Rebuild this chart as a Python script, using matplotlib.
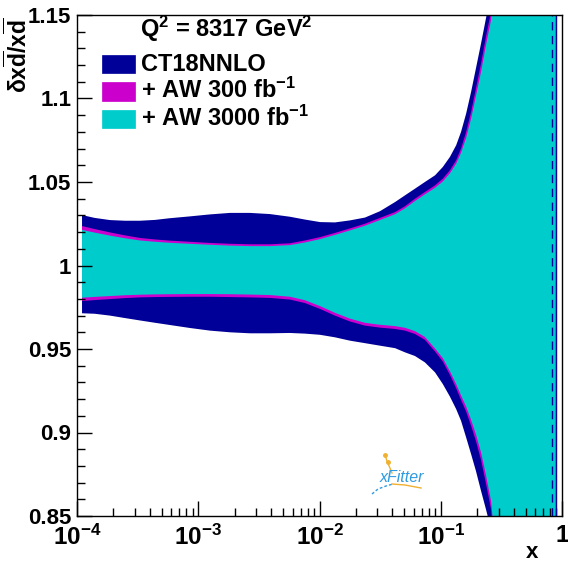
import matplotlib
matplotlib.use("Agg")
import matplotlib.pyplot as plt
from matplotlib.ticker import FixedLocator, NullFormatter, MultipleLocator
from matplotlib.lines import Line2D
from matplotlib.patches import Rectangle

plt.rcParams['font.family'] = ['Liberation Sans', 'DejaVu Sans']
plt.rcParams['font.weight'] = 'bold'
plt.rcParams['mathtext.fontset'] = 'custom'
plt.rcParams['mathtext.rm'] = 'Liberation Sans:bold'
plt.rcParams['mathtext.it'] = 'Liberation Sans:bold'
plt.rcParams['mathtext.bf'] = 'Liberation Sans:bold'
plt.rcParams['mathtext.sf'] = 'Liberation Sans:bold'

# ---- relative uncertainty bands of xdbar at Q^2 = 8317 GeV^2 ----
x_nodes = [1.1e-4, 1.4e-4, 1.87e-4, 2.5e-4, 3.3e-4, 4.4e-4, 5.8e-4, 8.5e-4, 1.25e-3, 1.83e-3,
           2.67e-3, 3.9e-3, 5.7e-3, 7.6e-3, 1.01e-2, 1.34e-2, 1.78e-2, 2.37e-2, 3.15e-2, 4.2e-2,
           5.07e-2, 6.13e-2, 7.4e-2, 8.97e-2, 0.104, 0.119, 0.134, 0.147, 0.162, 0.178,
           0.195, 0.215, 0.236, 0.26, 0.3, 0.89]

ct18_hi = [1.0302, 1.0285, 1.0272, 1.0268, 1.0268, 1.0273, 1.0283, 1.0294, 1.0306, 1.0315,
           1.0315, 1.0308, 1.0292, 1.0275, 1.0260, 1.0258, 1.0270, 1.0287, 1.0325, 1.0380,
           1.042, 1.046, 1.050, 1.054, 1.059, 1.065, 1.072, 1.080, 1.091, 1.104,
           1.118, 1.133, 1.148, 1.163, 1.22, 3.0]
ct18_lo = [0.9714, 0.9711, 0.9700, 0.9685, 0.9671, 0.9657, 0.9644, 0.9626, 0.9610, 0.9600,
           0.9594, 0.9594, 0.9596, 0.9592, 0.9585, 0.9570, 0.9550, 0.9535, 0.9520, 0.9505,
           0.948, 0.9458, 0.942, 0.936, 0.929, 0.9215, 0.914, 0.907, 0.897, 0.887,
           0.877, 0.865, 0.854, 0.842, 0.80, -1.0]

aw300_hi = [1.0236, 1.0218, 1.0198, 1.0180, 1.0165, 1.0156, 1.0149, 1.0142, 1.0135, 1.0130,
            1.0127, 1.0127, 1.0133, 1.0150, 1.0170, 1.0195, 1.0222, 1.0250, 1.0285, 1.0320,
            1.0355, 1.040, 1.044, 1.048, 1.052, 1.057, 1.063, 1.070, 1.080, 1.092,
            1.106, 1.121, 1.137, 1.152, 1.21, 3.0]
aw300_lo = [0.9787, 0.9793, 0.9799, 0.9805, 0.9809, 0.9811, 0.9812, 0.9813, 0.9813, 0.9811,
            0.9809, 0.9806, 0.9796, 0.9775, 0.9740, 0.9700, 0.9665, 0.9640, 0.9628, 0.9620,
            0.9610, 0.9590, 0.9555, 0.9485, 0.9425, 0.9345, 0.9265, 0.9195, 0.9125, 0.904,
            0.895, 0.8835, 0.8695, 0.854, 0.80, -1.0]

aw3000_hi = [1.0213, 1.0197, 1.0179, 1.0163, 1.0150, 1.0142, 1.0136, 1.0130, 1.0124, 1.0119,
             1.0116, 1.0116, 1.0122, 1.0138, 1.0158, 1.0183, 1.0210, 1.0238, 1.0272, 1.0307,
             1.0342, 1.0386, 1.0426, 1.0465, 1.0503, 1.0552, 1.061, 1.0675, 1.0765, 1.088,
             1.1015, 1.116, 1.132, 1.147, 1.20, 3.0]
aw3000_lo = [0.9807, 0.9812, 0.9817, 0.9822, 0.9825, 0.9827, 0.9828, 0.9829, 0.9829, 0.9828,
             0.9826, 0.9823, 0.9813, 0.9792, 0.9757, 0.9717, 0.9682, 0.9657, 0.9645, 0.9637,
             0.9627, 0.9607, 0.9572, 0.9503, 0.9445, 0.9367, 0.929, 0.9222, 0.9155, 0.9075,
             0.899, 0.888, 0.8745, 0.859, 0.81, -1.0]

x_dashed = 0.82

series_labels = ['CT18NNLO', '+ AW 300 fb$^{-1}$', '+ AW 3000 fb$^{-1}$']
x_tick_vals = [1e-4, 1e-3, 1e-2, 1e-1, 1]
x_tick_labels = ['10$^{-4}$', '10$^{-3}$', '10$^{-2}$', '10$^{-1}$', '1']
y_tick_vals = [0.85, 0.9, 0.95, 1.0, 1.05, 1.1, 1.15]
y_tick_labels = ['0.85', '0.9', '0.95', '1', '1.05', '1.1', '1.15']

NAVY = '#000099'
MAGENTA = '#cc00cc'
CYAN = '#00cccc'

W, H = 568, 561
fig = plt.figure(figsize=(W / 100, H / 100), dpi=100)


def fx(px):
    return px / W


def fy(py):
    return 1 - py / H


ax = fig.add_axes([fx(77), 45 / H, 485 / W, 501 / H])
ax.set_xscale('log')
ax.set_xlim(1e-4, 1)
ax.set_ylim(0.85, 1.15)

ax.fill_between(x_nodes, ct18_lo, ct18_hi, color=NAVY, lw=0)
ax.fill_between(x_nodes, aw300_lo, aw300_hi, color=MAGENTA, lw=0)
ax.fill_between(x_nodes, aw3000_lo, aw3000_hi, color=CYAN, lw=0)
ax.axvline(x_dashed, color=NAVY, lw=1, ls=(0, (6, 4)))
ax.axvline(x_nodes[-1], color=NAVY, lw=1)

# axes ticks in ROOT style
ax.xaxis.set_major_locator(FixedLocator(x_tick_vals))
ax.set_xticklabels(x_tick_labels)
minor = [m * 10.0 ** e for e in range(-4, 0) for m in range(2, 10)]
ax.xaxis.set_minor_locator(FixedLocator(minor))
ax.xaxis.set_minor_formatter(NullFormatter())
ax.yaxis.set_major_locator(FixedLocator(y_tick_vals))
ax.set_yticklabels(y_tick_labels)
ax.yaxis.set_minor_locator(MultipleLocator(0.01))
ax.tick_params(which='both', direction='in', top=False, right=False, width=1,
               colors='black')
ax.tick_params(which='major', length=10.5)
ax.tick_params(which='minor', length=5.5)
ax.tick_params(axis='x', pad=6, labelsize=17.5)
ax.tick_params(axis='y', pad=4, labelsize=16)
for s in ax.spines.values():
    s.set_linewidth(1)
    s.set_color('black')

# axis titles
fig.text(fx(532), fy(552), 'x', fontsize=16, fontweight='bold', ha='center', va='center')
fig.text(fx(18), fy(17), r'$\delta x\overline{d}/x\overline{d}$', fontsize=16.5,
         rotation=90, ha='center', va='top')

# legend
fig.text(fx(140), fy(37), r'Q$^2$ = 8317 GeV$^2$', fontsize=17, ha='left', va='baseline')
colors = [NAVY, MAGENTA, CYAN]
for i, (lab, c) in enumerate(zip(series_labels, colors)):
    ytop = 55 + i * 27.5
    fig.patches.append(Rectangle((fx(102), fy(ytop + 18)), 33 / W, 18 / H,
                                 transform=fig.transFigure, facecolor=c,
                                 edgecolor=c, lw=0.5))
    fig.text(fx(141), fy(ytop + 15.5), lab, fontsize=17, ha='left', va='baseline')

# xFitter logo
fig.text(fx(402), fy(478), 'xFitter', fontsize=11.5, style='italic', fontweight='normal',
         color='#2f9ae0', ha='center', va='center')
logo_lines = [
    ([385, 387, 392], [455, 461, 473], '#f0b030', '-'),
    ([392, 405, 421], [484, 485, 488], '#f0b030', '-'),
    ([372, 378, 386, 393], [494, 489, 486, 484], '#2f9ae0', (0, (2, 1.5))),
]
for xs, ys, col, ls in logo_lines:
    fig.lines.append(Line2D([fx(v) for v in xs], [fy(v) for v in ys],
                            transform=fig.transFigure, color=col, lw=1, ls=ls))
fig.lines.append(Line2D([fx(385), fx(388)], [fy(455), fy(462)], transform=fig.transFigure,
                        color='#f0b030', ls='none', marker='o', ms=2.5))

fig.savefig('out.png', dpi=100, facecolor='white')
